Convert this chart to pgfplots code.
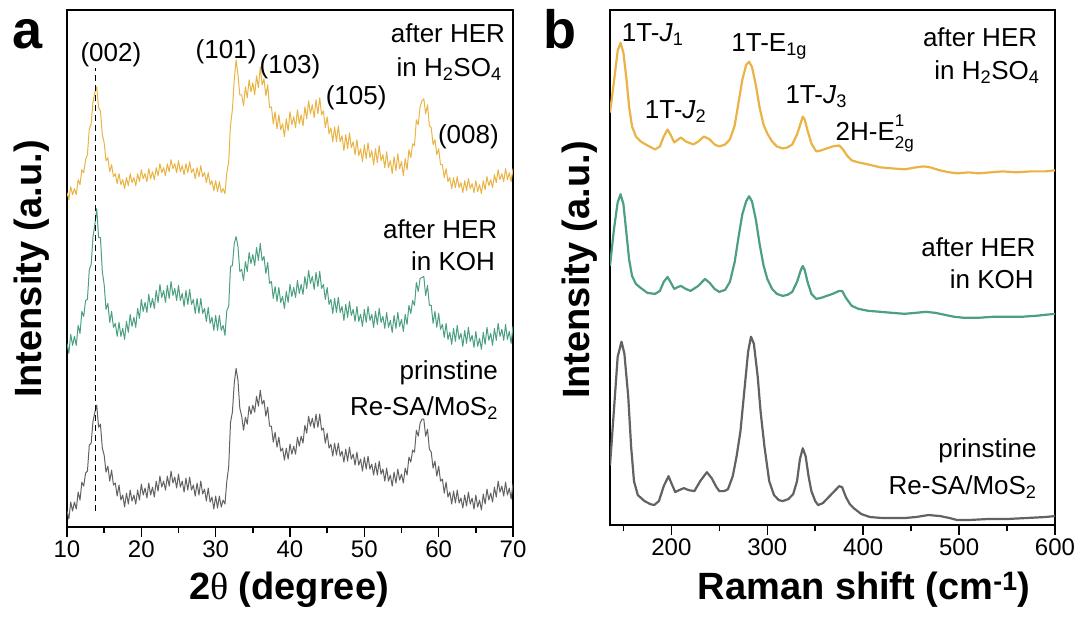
\documentclass[border=0pt]{standalone}
\usepackage{pgfplots}
\pgfplotsset{compat=1.18}
\usepackage{fontspec}
\setmainfont{Liberation Sans}
\newfontfamily\serifth{Liberation Serif}
\definecolor{cy}{RGB}{234,179,69}
\definecolor{cg}{RGB}{76,160,128}
\definecolor{ck}{RGB}{98,98,98}
\newcommand{\tfont}{\fontsize{24}{28}\selectfont}
\newcommand{\afont}{\fontsize{26}{30}\selectfont}
\newcommand{\lfont}{\fontsize{38}{44}\selectfont\bfseries}
\pgfplotsset{
  myax/.style={scale only axis, ytick=\empty, xtick pos=bottom, tick align=outside,
    major tick length=10pt, minor tick length=6pt,
    axis line style={line width=1.8pt},
    every tick/.style={black, line width=1.5pt},
    tick label style={font=\tfont},
    /pgf/number format/assume math mode=true,
    /pgf/number format/1000 sep={}},
}
\tikzset{rl/.style={font=\afont, anchor=east, inner sep=0pt}}
\begin{document}
\begin{tikzpicture}[x=1pt,y=1pt]
\path[use as bounding box] (0,0) rectangle (1086,623);
\begin{axis}[myax, at={(67pt,96pt)}, anchor=south west, width=446pt, height=517pt,
  xmin=10, xmax=70, ymin=95, ymax=613, xtick={10,20,...,70}, minor xtick={15,25,...,65}]
\addplot[cy, line width=1pt, line join=round] coordinates {(10,430)(10.25,423)(10.5,436)(10.75,428)(11,434)(11.25,428)(11.5,443)(11.75,438)(12,453)(12.25,450)(12.5,463)(12.75,468)(13,494)(13.25,499)(13.5,521)(13.75,530)(14,536)(14.25,515)(14.5,512)(14.75,488)(15,480)(15.25,462)(15.5,465)(15.75,451)(16,458)(16.25,446)(16.5,449)(16.75,439)(17,449)(17.25,438)(17.5,443)(17.75,434)(18,445)(18.25,437)(18.5,449)(18.75,440)(19,445)(19.25,437)(19.5,449)(19.75,441)(20,453)(20.25,444)(20.5,449)(20.75,441)(21,454)(21.25,444)(21.5,451)(21.75,443)(22,455)(22.25,447)(22.5,459)(22.75,450)(23,455)(23.25,447)(23.5,459)(23.75,451)(24,463)(24.25,454)(24.5,459)(24.75,450)(25,462)(25.25,451)(25.5,457)(25.75,448)(26,459)(26.25,450)(26.5,461)(26.75,450)(27,454)(27.25,444)(27.5,455)(27.75,446)(28,457)(28.25,446)(28.5,450)(28.75,440)(29,450)(29.25,438)(29.5,442)(29.75,432)(30,442)(30.25,431)(30.5,441)(30.75,430)(31,434)(31.25,429)(31.5,450)(31.75,461)(32,498)(32.25,513)(32.5,543)(32.75,563)(33,548)(33.25,528)(33.5,528)(33.75,517)(34,536)(34.25,525)(34.5,543)(34.75,531)(35,540)(35.25,528)(35.5,547)(35.75,535)(36,556)(36.25,538)(36.5,544)(36.75,527)(37,538)(37.25,515)(37.5,516)(37.75,499)(38,511)(38.25,494)(38.5,508)(38.75,493)(39,499)(39.25,486)(39.5,504)(39.75,492)(40,511)(40.25,498)(40.5,506)(40.75,495)(41,513)(41.25,499)(41.5,508)(41.75,497)(42,516)(42.25,504)(42.5,522)(42.75,509)(43,518)(43.25,505)(43.5,523)(43.75,509)(44,525)(44.25,508)(44.5,512)(44.75,495)(45,506)(45.25,489)(45.5,495)(45.75,481)(46,496)(46.25,481)(46.5,497)(46.75,481)(47,487)(47.25,472)(47.5,488)(47.75,474)(48,490)(48.25,475)(48.5,481)(48.75,468)(49,483)(49.25,467)(49.5,474)(49.75,461)(50,478)(50.25,464)(50.5,480)(50.75,465)(51,472)(51.25,458)(51.5,474)(51.75,460)(52,477)(52.25,462)(52.5,468)(52.75,455)(53,471)(53.25,455)(53.5,462)(53.75,449)(54,466)(54.25,452)(54.5,469)(54.75,454)(55,461)(55.25,447)(55.5,464)(55.75,453)(56,473)(56.25,465)(56.5,479)(56.75,477)(57,503)(57.25,498)(57.5,516)(57.75,522)(58,524)(58.25,509)(58.5,518)(58.75,497)(59,495)(59.25,478)(59.5,483)(59.75,468)(60,474)(60.25,458)(60.5,458)(60.75,445)(61,454)(61.25,441)(61.5,445)(61.75,434)(62,445)(62.25,435)(62.5,446)(62.75,435)(63,440)(63.25,430)(63.5,442)(63.75,432)(64,444)(64.25,434)(64.5,439)(64.75,430)(65,442)(65.25,431)(65.5,438)(65.75,429)(66,442)(66.25,433)(66.5,446)(66.75,437)(67,443)(67.25,435)(67.5,448)(67.75,440)(68,453)(68.25,443)(68.5,449)(68.75,441)(69,454)(69.25,443)(69.5,450)(69.75,441)(70,454)};
\addplot[cg, line width=1pt, line join=round] coordinates {(10,279)(10.25,269)(10.5,288)(10.75,277)(11,286)(11.25,277)(11.5,297)(11.75,289)(12,311)(12.25,306)(12.5,322)(12.75,323)(13,353)(13.25,358)(13.5,386)(13.75,398)(14,414)(14.25,385)(14.5,385)(14.75,351)(15,338)(15.25,313)(15.5,319)(15.75,300)(16,311)(16.25,295)(16.5,299)(16.75,286)(17,300)(17.25,286)(17.5,294)(17.75,283)(18,301)(18.25,290)(18.5,308)(18.75,296)(19,305)(19.25,295)(19.5,314)(19.75,304)(20,323)(20.25,311)(20.5,320)(20.75,310)(21,328)(21.25,315)(21.5,324)(21.75,314)(22,332)(22.25,320)(22.5,338)(22.75,325)(23,332)(23.25,320)(23.5,337)(23.75,324)(24,341)(24.25,327)(24.5,334)(24.75,322)(25,337)(25.25,322)(25.5,329)(25.75,316)(26,332)(26.25,318)(26.5,333)(26.75,318)(27,323)(27.25,309)(27.5,324)(27.75,309)(28,324)(28.25,309)(28.5,314)(28.75,301)(29,315)(29.25,299)(29.5,305)(29.75,292)(30,307)(30.25,292)(30.5,307)(30.75,292)(31,297)(31.25,287)(31.5,312)(31.75,316)(32,356)(32.25,357)(32.5,379)(32.75,386)(33,376)(33.25,351)(33.5,353)(33.75,342)(34,361)(34.25,351)(34.5,370)(34.75,359)(35,368)(35.25,357)(35.5,375)(35.75,362)(36,379)(36.25,362)(36.5,366)(36.75,349)(37,360)(37.25,339)(37.5,341)(37.75,324)(38,336)(38.25,321)(38.5,335)(38.75,320)(39,326)(39.25,314)(39.5,331)(39.75,320)(40,338)(40.25,326)(40.5,335)(40.75,325)(41,342)(41.25,329)(41.5,338)(41.75,328)(42,346)(42.25,334)(42.5,352)(42.75,339)(43,346)(43.25,333)(43.5,350)(43.75,336)(44,351)(44.25,334)(44.5,338)(44.75,323)(45,335)(45.25,318)(45.5,323)(45.75,309)(46,324)(46.25,310)(46.5,325)(46.75,310)(47,316)(47.25,302)(47.5,318)(47.75,305)(48,321)(48.25,307)(48.5,313)(48.75,301)(49,316)(49.25,301)(49.5,308)(49.75,296)(50,313)(50.25,300)(50.5,316)(50.75,302)(51,308)(51.25,295)(51.5,311)(51.75,298)(52,314)(52.25,300)(52.5,306)(52.75,294)(53,310)(53.25,295)(53.5,302)(53.75,290)(54,307)(54.25,294)(54.5,310)(54.75,296)(55,303)(55.25,291)(55.5,308)(55.75,298)(56,317)(56.25,309)(56.5,322)(56.75,317)(57,340)(57.25,331)(57.5,344)(57.75,345)(58,346)(58.25,327)(58.5,337)(58.75,317)(59,317)(59.25,299)(59.5,311)(59.75,295)(60,309)(60.25,293)(60.5,298)(60.75,285)(61,299)(61.25,283)(61.5,290)(61.75,278)(62,294)(62.25,281)(62.5,297)(62.75,283)(63,289)(63.25,276)(63.5,292)(63.75,279)(64,295)(64.25,281)(64.5,287)(64.75,275)(65,291)(65.25,276)(65.5,284)(65.75,273)(66,290)(66.25,278)(66.5,295)(66.75,282)(67,289)(67.25,277)(67.5,294)(67.75,282)(68,299)(68.25,286)(68.5,293)(68.75,282)(69,298)(69.25,283)(69.5,291)(69.75,279)(70,296)};
\addplot[ck, line width=1pt, line join=round] coordinates {(10,111)(10.25,103)(10.5,120)(10.75,111)(11,120)(11.25,113)(11.5,130)(11.75,122)(12,140)(12.25,136)(12.5,149)(12.75,151)(13,177)(13.25,179)(13.5,201)(13.75,210)(14,217)(14.25,195)(14.5,198)(14.75,174)(15,167)(15.25,150)(15.5,156)(15.75,141)(16,152)(16.25,137)(16.5,139)(16.75,126)(17,137)(17.25,122)(17.5,127)(17.75,115)(18,129)(18.25,118)(18.5,132)(18.75,121)(19,127)(19.25,118)(19.5,132)(19.75,122)(20,138)(20.25,127)(20.5,134)(20.75,124)(21,139)(21.25,127)(21.5,135)(21.75,125)(22,141)(22.25,131)(22.5,146)(22.75,135)(23,141)(23.25,132)(23.5,146)(23.75,136)(24,151)(24.25,139)(24.5,145)(24.75,134)(25,148)(25.25,135)(25.5,141)(25.75,130)(26,144)(26.25,132)(26.5,145)(26.75,132)(27,137)(27.25,126)(27.5,139)(27.75,127)(28,141)(28.25,128)(28.5,133)(28.75,121)(29,134)(29.25,120)(29.5,125)(29.75,113)(30,126)(30.25,114)(30.5,126)(30.75,115)(31,122)(31.25,118)(31.5,141)(31.75,155)(32,200)(32.25,210)(32.5,239)(32.75,254)(33,242)(33.25,214)(33.5,206)(33.75,192)(34,205)(34.25,198)(34.5,216)(34.75,208)(35,217)(35.25,210)(35.5,226)(35.75,216)(36,232)(36.25,218)(36.5,222)(36.75,206)(37,215)(37.25,196)(37.5,196)(37.75,180)(38,190)(38.25,175)(38.5,185)(38.75,171)(39,174)(39.25,162)(39.5,174)(39.75,163)(40,178)(40.25,168)(40.5,176)(40.75,168)(41,185)(41.25,176)(41.5,186)(41.75,179)(42,197)(42.25,189)(42.5,206)(42.75,196)(43,204)(43.25,194)(43.5,208)(43.75,195)(44,208)(44.25,192)(44.5,194)(44.75,179)(45,189)(45.25,174)(45.5,178)(45.75,166)(46,179)(46.25,167)(46.5,179)(46.75,166)(47,171)(47.25,160)(47.5,173)(47.75,161)(48,175)(48.25,163)(48.5,168)(48.75,157)(49,170)(49.25,157)(49.5,163)(49.75,151)(50,165)(50.25,153)(50.5,166)(50.75,153)(51,158)(51.25,147)(51.5,159)(51.75,147)(52,161)(52.25,148)(52.5,153)(52.75,141)(53,154)(53.25,141)(53.5,147)(53.75,136)(54,150)(54.25,139)(54.5,153)(54.75,142)(55,148)(55.25,139)(55.5,154)(55.75,147)(56,165)(56.25,160)(56.5,172)(56.75,170)(57,192)(57.25,186)(57.5,199)(57.75,203)(58,203)(58.25,186)(58.5,193)(58.75,173)(59,170)(59.25,154)(59.5,161)(59.75,146)(60,156)(60.25,141)(60.5,143)(60.75,129)(61,140)(61.25,125)(61.5,130)(61.75,118)(62,131)(62.25,119)(62.5,132)(62.75,119)(63,124)(63.25,114)(63.5,127)(63.75,116)(64,130)(64.25,118)(64.5,124)(64.75,113)(65,127)(65.25,115)(65.5,122)(65.75,112)(66,128)(66.25,118)(66.5,133)(66.75,122)(67,129)(67.25,120)(67.5,135)(67.75,125)(68,141)(68.25,130)(68.5,136)(68.75,126)(69,140)(69.25,127)(69.5,134)(69.75,123)(70,138)};
\addplot[black, line width=1.4pt, dash pattern=on 6pt off 4pt] coordinates {(13.86,111)(13.86,555)};
\node[font=\afont] at (axis cs:15.9,568) {(002)};
\node[font=\afont] at (axis cs:31.4,571) {(101)};
\node[font=\afont] at (axis cs:40.0,556) {(103)};
\node[font=\afont] at (axis cs:48.9,525) {(105)};
\node[font=\afont] at (axis cs:64.0,486) {(008)};
\node[rl] at (axis cs:68.95,590) {after HER};
\node[rl] at (axis cs:68.5,554) {in H\textsubscript{2}SO\textsubscript{4}};
\node[rl] at (axis cs:67.9,393) {after HER};
\node[rl] at (axis cs:67.6,361) {in KOH};
\node[rl] at (axis cs:68,250) {prinstine};
\node[rl] at (axis cs:68,214) {Re-SA/MoS\textsubscript{2}};
\end{axis}
\begin{axis}[myax, at={(610pt,98pt)}, anchor=south west, width=445pt, height=515pt,
  xmin=136, xmax=600, ymin=96, ymax=613, xtick={200,300,...,600}, minor xtick={150,250,...,550}]
\addplot[cy, line width=2.2pt, line join=round] coordinates {(136,510)(140,540)(144,572)(147,580)(150,570)(153,545)(156,515)(159,496)(163,486)(168,481)(175,477)(183,473)(188,476)(192,486)(196,493)(199,488)(203,480)(207,483)(210,485)(215,481)(223,478)(228,481)(234,486)(240,483)(245,478)(250,476)(256,478)(261,483)(266,497)(270,520)(274,543)(278,558)(281,561)(284,556)(288,538)(292,515)(296,498)(300,489)(305,481)(310,476)(316,474)(321,475)(326,478)(331,488)(335,500)(337,506)(339,503)(342,492)(346,479)(351,471)(356,472)(362,474)(368,476)(375,477)(379,473)(383,467)(388,462)(395,460)(405,458)(418,455)(430,454)(443,453)(455,455)(463,456)(470,455)(480,452)(490,450)(498,449)(510,450)(520,449)(533,450)(545,451)(560,450)(575,451)(590,451)(600,452)};
\addplot[cg, line width=2.2pt, line join=round] coordinates {(136,356)(140,392)(144,420)(147,428)(150,418)(153,390)(156,362)(159,346)(163,338)(168,334)(175,329)(183,328)(188,331)(192,340)(196,345)(199,340)(203,333)(207,335)(210,336)(215,333)(220,331)(228,336)(235,343)(240,339)(245,333)(250,330)(256,332)(261,340)(266,360)(270,385)(274,408)(278,421)(281,426)(284,421)(288,403)(292,378)(296,357)(300,343)(305,333)(310,328)(316,326)(321,327)(326,330)(331,340)(335,352)(337,356)(339,352)(342,340)(346,328)(351,323)(356,324)(362,326)(368,328)(375,331)(378,331)(382,324)(388,316)(395,313)(405,311)(418,310)(430,309)(443,308)(455,309)(465,310)(475,309)(485,307)(495,305)(505,304)(520,304)(535,305)(550,305)(565,305)(580,306)(600,308)};
\addplot[ck, line width=2.2pt, line join=round] coordinates {(136,156)(140,210)(144,265)(148,280)(151,268)(155,225)(158,175)(161,140)(165,126)(172,120)(178,117)(182,116)(187,120)(192,135)(197,145)(200,138)(204,129)(208,131)(213,133)(218,131)(224,130)(230,140)(237,149)(242,143)(247,134)(250,130)(255,130)(259,132)(264,145)(268,165)(272,190)(276,230)(280,270)(283,285)(286,278)(290,245)(293,210)(297,175)(302,140)(307,126)(312,121)(316,120)(322,122)(327,127)(331,140)(334,162)(337,173)(340,165)(343,145)(346,130)(350,120)(353,116)(358,118)(364,124)(370,130)(375,135)(378,134)(382,124)(386,117)(390,113)(398,107)(407,104)(420,103)(443,103)(455,104)(468,106)(480,105)(490,103)(498,101)(510,101)(530,102)(550,102)(570,103)(590,104)(600,105)};
\node[font=\afont] at (axis cs:180.5,588) {1T-\textit{J}\textsubscript{1}};
\node[font=\afont] at (axis cs:204.4,511) {1T-\textit{J}\textsubscript{2}};
\node[font=\afont] at (axis cs:302,576) {1T-E\textsubscript{1g}};
\node[font=\afont] at (axis cs:351,526) {1T-\textit{J}\textsubscript{3}};
\node[font=\afont] at (axis cs:412,489) {2H-E\rlap{\raisebox{0.55em}{\fontsize{17}{17}\selectfont 1}}\raisebox{-0.3em}{\fontsize{17}{17}\selectfont 2g}};
\node[rl] at (axis cs:581.6,586) {after HER};
\node[rl] at (axis cs:584,551) {in H\textsubscript{2}SO\textsubscript{4}};
\node[rl] at (axis cs:579.8,375) {after HER};
\node[rl] at (axis cs:578,343) {in KOH};
\node[rl] at (axis cs:581,171) {prinstine};
\node[rl] at (axis cs:581,134) {Re-SA/MoS\textsubscript{2}};
\end{axis}
\node[anchor=base, font=\lfont] at (289,23) {2{\serifth\mdseries θ} (degree)};
\node[anchor=base, font=\lfont] at (864,23) {Raman shift (cm\textsuperscript{-1})};
\node[anchor=base, rotate=90, font=\lfont] at (41,354) {Intensity (a.u.)};
\node[anchor=base, rotate=90, font=\lfont] at (589,353) {Intensity (a.u.)};
\node[anchor=base west, inner sep=0pt, font=\fontsize{54}{60}\selectfont\bfseries] at (12,574) {a};
\node[anchor=base west, inner sep=0pt, font=\fontsize{54}{60}\selectfont\bfseries] at (543,574) {b};
\end{tikzpicture}
\end{document}
